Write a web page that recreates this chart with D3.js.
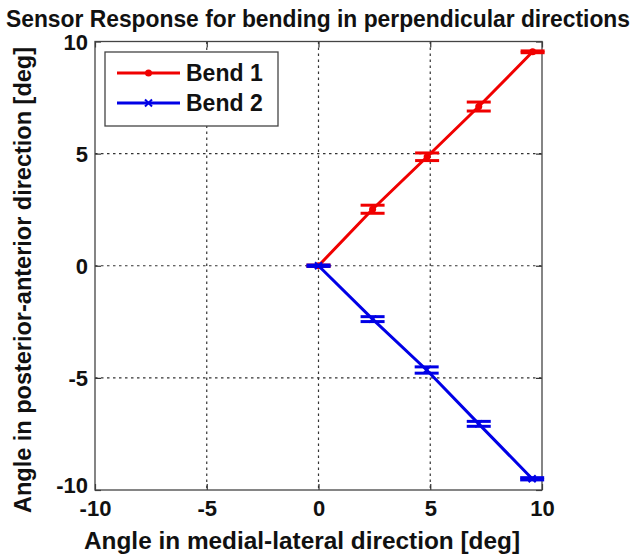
<!DOCTYPE html>
<html>
<head>
<meta charset="utf-8">
<script src="https://cdn.jsdelivr.net/npm/d3@7"></script>
<style>
html,body{margin:0;padding:0;background:#fff;}
svg{display:block;font-family:"Liberation Sans",Arial,sans-serif;font-weight:bold;}
</style>
</head>
<body>
<svg id="chart" width="636" height="555"></svg>
<script>
const xTicks = [-10, -5, 0, 5, 10];
const yTicks = [-10, -5, 0, 5, 10];
const seriesNames = ["Bend 1", "Bend 2"];
const bend1X = [0, 2.42, 4.86, 7.17, 9.58];
const bend1Y = [0, 2.52, 4.86, 7.1, 9.54];
const bend1Err = [0.03, 0.18, 0.17, 0.2, 0.04];
const bend2X = [0, 2.42, 4.84, 7.17, 9.56];
const bend2Y = [0, -2.38, -4.65, -7.05, -9.5];
const bend2Err = [0.03, 0.11, 0.14, 0.11, 0.05];

const svg = d3.select("#chart");
const L = 95, R = 542, T = 41.5, B = 490;
const x = d3.scaleLinear().domain([-10, 10]).range([L, R]);
const y = d3.scaleLinear().domain([-10, 10]).range([B, T]);
const fmt = d => String(d);

// grid
const g = svg.append("g");
g.selectAll(".gx").data(xTicks.filter(d => d > -10 && d < 10)).enter().append("line")
  .attr("x1", d => x(d)).attr("x2", d => x(d)).attr("y1", T).attr("y2", B)
  .attr("stroke", "#333").attr("stroke-width", 1.2).attr("stroke-dasharray", "2.5,3.5");
g.selectAll(".gy").data(yTicks.filter(d => d > -10 && d < 10)).enter().append("line")
  .attr("y1", d => y(d)).attr("y2", d => y(d)).attr("x1", L).attr("x2", R)
  .attr("stroke", "#333").attr("stroke-width", 1.2).attr("stroke-dasharray", "2.5,3.5");

// axes
const ax = svg.append("g").attr("transform", `translate(0,${B})`)
  .call(d3.axisBottom(x).tickValues(xTicks).tickSize(-6).tickPadding(10).tickFormat(fmt));
const axTop = svg.append("g").attr("transform", `translate(0,${T})`)
  .call(d3.axisTop(x).tickValues(xTicks).tickSize(-6).tickFormat(""));
const ay = svg.append("g").attr("transform", `translate(${L},0)`)
  .call(d3.axisLeft(y).tickValues(yTicks).tickSize(-6).tickPadding(7).tickFormat(fmt));
const ayR = svg.append("g").attr("transform", `translate(${R},0)`)
  .call(d3.axisRight(y).tickValues(yTicks).tickSize(-6).tickFormat(""));
[ax, axTop, ay, ayR].forEach(a => {
  a.select(".domain").remove();
  a.selectAll(".tick line").attr("stroke", "#333").attr("stroke-width", 1.2);
  a.selectAll("text").attr("fill", "#111").style("font-size", "22px").style("font-weight", "bold")
    .style("font-family", '"Liberation Sans",Arial,sans-serif');
});
ax.selectAll("text").attr("dy", "0.71em");
ay.selectAll("text").attr("dy", "0.36em");
ay.selectAll(".tick").filter(d => d === -10).select("text").attr("dy", "0.1em");

svg.append("rect").attr("x", L).attr("y", T).attr("width", R - L).attr("height", B - T)
  .attr("fill", "none").attr("stroke", "#444").attr("stroke-width", 1.3);

// series
const series = [
  {name: seriesNames[0], xs: bend1X, ys: bend1Y, es: bend1Err, color: "#f00000", marker: "dot"},
  {name: seriesNames[1], xs: bend2X, ys: bend2Y, es: bend2Err, color: "#0000e6", marker: "x"}
];
const capHalf = 12;
series.forEach(s => {
  const pts = s.xs.map((v, i) => ({x: v, y: s.ys[i], e: s.es[i]}));
  const sg = svg.append("g");
  sg.append("path").datum(pts)
    .attr("d", d3.line().x(d => x(d.x)).y(d => y(d.y)))
    .attr("fill", "none").attr("stroke", s.color).attr("stroke-width", 3);
  pts.forEach(p => {
    const cx = x(p.x), y1 = y(p.y + p.e), y2 = y(p.y - p.e);
    sg.append("line").attr("x1", cx).attr("x2", cx).attr("y1", y1).attr("y2", y2)
      .attr("stroke", s.color).attr("stroke-width", 3);
    [y1, y2].forEach(yy => sg.append("line").attr("x1", cx - capHalf).attr("x2", cx + capHalf)
      .attr("y1", yy).attr("y2", yy).attr("stroke", s.color).attr("stroke-width", 3));
    if (s.marker === "dot") {
      sg.append("circle").attr("cx", cx).attr("cy", y(p.y)).attr("r", 3.5).attr("fill", s.color);
    } else {
      const cy = y(p.y), m = 3.5;
      sg.append("path").attr("d", `M${cx-m},${cy-m}L${cx+m},${cy+m}M${cx-m},${cy+m}L${cx+m},${cy-m}`)
        .attr("stroke", s.color).attr("stroke-width", 2);
    }
  });
});

// legend
const lg = svg.append("g");
lg.append("rect").attr("x", 105).attr("y", 52).attr("width", 173).attr("height", 74)
  .attr("fill", "#fff").attr("stroke", "#444").attr("stroke-width", 1.3);
series.forEach((s, i) => {
  const ly = 73 + i * 30;
  lg.append("line").attr("x1", 117).attr("x2", 180).attr("y1", ly).attr("y2", ly)
    .attr("stroke", s.color).attr("stroke-width", 3);
  const cx = 148.5;
  if (s.marker === "dot") {
    lg.append("circle").attr("cx", cx).attr("cy", ly).attr("r", 3.5).attr("fill", s.color);
  } else {
    const m = 3.5;
    lg.append("path").attr("d", `M${cx-m},${ly-m}L${cx+m},${ly+m}M${cx-m},${ly+m}L${cx+m},${ly-m}`)
      .attr("stroke", s.color).attr("stroke-width", 2);
  }
  lg.append("text").attr("x", 186).attr("y", ly).attr("dy", "0.36em")
    .style("font-size", "23px").attr("fill", "#111").text(s.name);
});

// titles
svg.append("text").attr("x", 318).attr("y", 27).attr("text-anchor", "middle")
  .style("font-size", "23px").attr("fill", "#111")
  .attr("textLength", 624).attr("lengthAdjust", "spacingAndGlyphs")
  .text("Sensor Response for bending in perpendicular directions");
svg.append("text").attr("x", 302).attr("y", 549).attr("text-anchor", "middle")
  .style("font-size", "23px").attr("fill", "#111")
  .attr("textLength", 436).attr("lengthAdjust", "spacingAndGlyphs")
  .text("Angle in medial-lateral direction [deg]");
svg.append("text").attr("transform", `translate(31,280) rotate(-90)`)
  .attr("text-anchor", "middle").style("font-size", "23px").attr("fill", "#111")
  .attr("textLength", 466).attr("lengthAdjust", "spacingAndGlyphs")
  .text("Angle in posterior-anterior direction [deg]");
</script>
</body>
</html>
